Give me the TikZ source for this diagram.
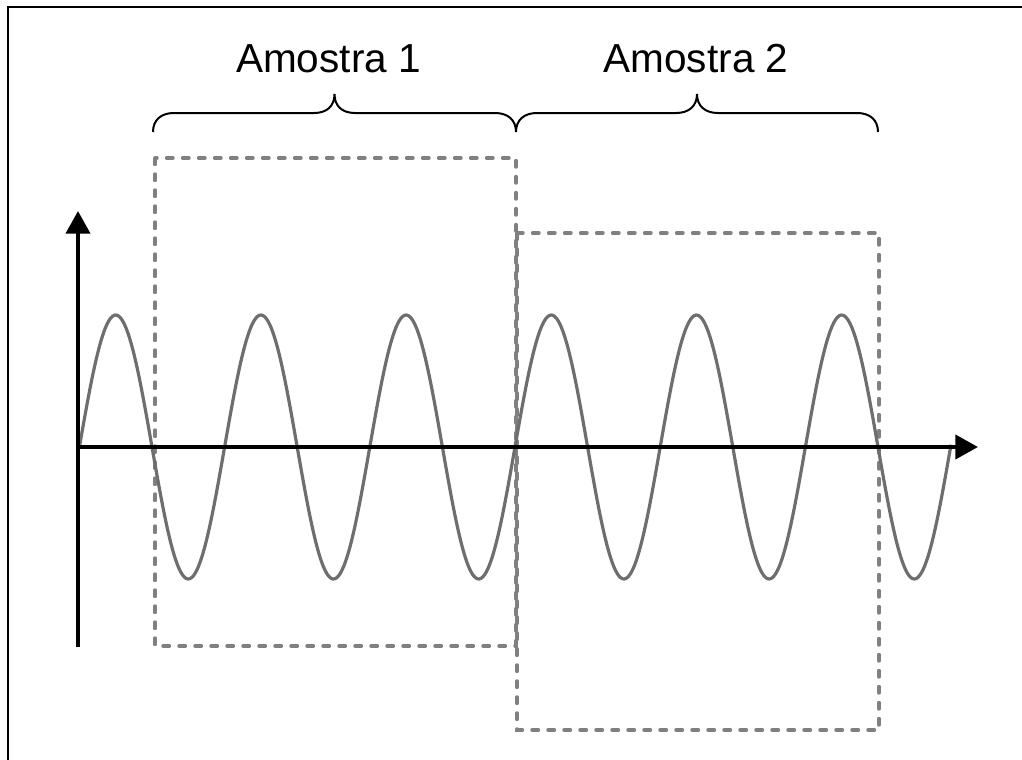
\documentclass[tikz,border=0pt]{standalone}
\usepackage{fontspec}
\setmainfont{Liberation Sans}
\usetikzlibrary{arrows.meta}
\definecolor{wavegray}{HTML}{6E6E6E}
\definecolor{boxgray}{HTML}{808080}
\tikzset{
  axisline/.style={line width=3pt, -{Triangle[width=18pt,length=17pt]}},
  wave/.style={line width=2.4pt, wavegray},
  dashbox/.style={line width=2.6pt, boxgray, line cap=round, dash pattern=on 4.8pt off 7.2pt},
  bracepath/.style={line width=1.5pt, black},
  label/.style={anchor=base, inner sep=0pt, font=\fontsize{30.4}{36}\selectfont},
}
\begin{document}
\begin{tikzpicture}[x=0.75pt, y=-0.75pt]
\useasboundingbox (0,0) rectangle (1022,760);
\begin{scope}
\clip (0,0) rectangle (1022,760);
\draw[line width=1.5pt] (8,7) rectangle (1030,770);
\end{scope}
% coordinates
\coordinate (origin) at (78,447);
\coordinate (ybot) at (78,647);
\coordinate (ytop) at (78,211);
\coordinate (xend) at (978,447);
% dashed boxes
\coordinate (r1a) at (155,158);
\coordinate (r1b) at (516,646);
\coordinate (r2a) at (517,233);
\coordinate (r2b) at (879,730);
\draw[dashbox] (r1a) rectangle (r1b);
\draw[dashbox] (r2a) rectangle (r2b);
% wave
\draw[wave] plot[domain=79.4:951, samples=500, smooth] (\x, {447 - 132*sin((\x-79.4)/145.2*360)});
% axes
\draw[axisline] (ybot) -- (ytop);
\draw[axisline] (origin) -- (xend);
% braces
\draw[bracepath] (153,132) .. controls (153,120) and (161,113) .. (174,113)
  -- (314,113) .. controls (327,113) and (334.5,106) .. (334.5,94)
  .. controls (334.5,106) and (342,113) .. (355,113)
  -- (495,113) .. controls (508,113) and (516,120) .. (516,132);
\draw[bracepath] (516,132) .. controls (516,120) and (524,113) .. (537,113)
  -- (676,113) .. controls (689,113) and (697,106) .. (697,94)
  .. controls (697,106) and (705,113) .. (718,113)
  -- (857,113) .. controls (870,113) and (878,120) .. (878,132);
% labels
\node[label] (lab1) at (328.5,72) {Amostra 1};
\node[label] (lab2) at (696,72) {Amostra 2};
\end{tikzpicture}
\end{document}
